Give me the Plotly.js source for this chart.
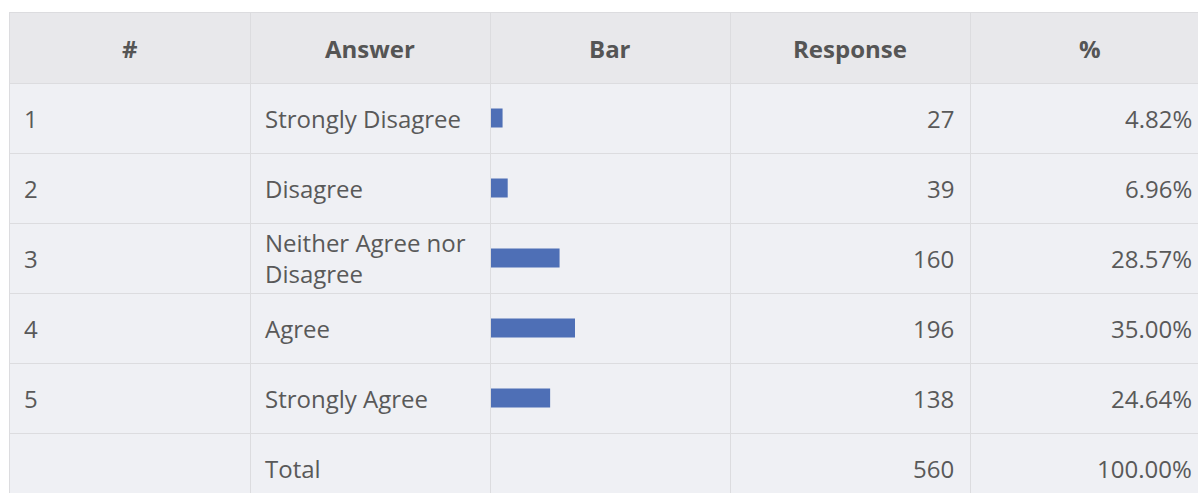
<!DOCTYPE html>
<html><head><meta charset="utf-8">
<script src="https://cdn.plot.ly/plotly-3.0.1.min.js"></script>
<style>html,body{margin:0;padding:0;background:#fff;overflow:hidden}#chart{width:1198px;height:493px}</style>
</head><body><div id="chart"></div>
<script>
// ---- data ----
const headers = ['#', 'Answer', 'Bar', 'Response', '%'];
const rowIds = ['1', '2', '3', '4', '5', ''];
const answers = ['Strongly Disagree', 'Disagree', 'Neither Agree nor<br>Disagree', 'Agree', 'Strongly Agree', 'Total'];
const responses = [27, 39, 160, 196, 138, 560];
const percents = [4.82, 6.96, 28.57, 35.00, 24.64, 100.00];
const percentLabels = ['4.82%', '6.96%', '28.57%', '35.00%', '24.64%', '100.00%'];

// ---- layout geometry ----
const W = 1198, H = 493;
const mL = 10, mT = 13;
const colW = 240, rowH = 70;
const plotW = W - mL, plotH = H - mT;
const xMax = plotW / colW;
const yMax = -0.5 + plotH / rowH;
const font = "'Segoe UI', 'Open Sans', sans-serif";
const fsize = 24;
const txt = '#595959';
const hdrTxt = '#555555';
const lineCol = '#dcdcdf';

const nData = answers.length;
const rowY = answers.map((_, i) => i + 1);
const barRows = rowY.slice(0, 5);
const barVals = percents.slice(0, 5);

const traces = [{
  type: 'bar', orientation: 'h', x: barVals, y: barRows,
  xaxis: 'x2', yaxis: 'y', width: 19 / rowH,
  marker: { color: '#4e6fb6' }, hoverinfo: 'skip'
}];

const annotations = [];
headers.forEach((h, c) => annotations.push({
  xref: 'x', yref: 'y', x: c + 0.5, y: 0, text: '<b>' + h + '</b>',
  showarrow: false, xanchor: 'center', yanchor: 'middle',
  font: { family: font, size: fsize, color: hdrTxt }
}));
for (let i = 0; i < nData; i++) {
  const y = rowY[i];
  const base = { xref: 'x', yref: 'y', y: y, showarrow: false, yanchor: 'middle',
    font: { family: font, size: fsize, color: txt } };
  if (rowIds[i]) annotations.push(Object.assign({}, base, { x: 0 + 12 / colW, xanchor: 'left', text: rowIds[i] }));
  annotations.push(Object.assign({}, base, { x: 1 + 13 / colW, xanchor: 'left', align: 'left', text: answers[i] }));
  annotations.push(Object.assign({}, base, { x: 4 - 14 / colW, xanchor: 'right', text: String(responses[i]) }));
  annotations.push(Object.assign({}, base, { x: 5 - 16 / colW, xanchor: 'right', text: percentLabels[i] }));
}

const layout = {
  width: W, height: H,
  margin: { l: mL, r: 0, t: mT, b: 0, pad: 0 },
  paper_bgcolor: '#ffffff', plot_bgcolor: 'rgba(0,0,0,0)',
  showlegend: false,
  xaxis: {
    range: [0, xMax], side: 'top', tickvals: [0, 1, 2, 3, 4, 5],
    showgrid: true, gridcolor: lineCol, gridwidth: 1, zeroline: false,
    showticklabels: false, ticks: '', showline: true, linecolor: lineCol, linewidth: 1,
    fixedrange: true
  },
  yaxis: {
    range: [yMax, -0.5], tickvals: [-0.5, 0.5, 1.5, 2.5, 3.5, 4.5, 5.5],
    showgrid: true, gridcolor: lineCol, gridwidth: 1, zeroline: false,
    showticklabels: false, ticks: '', showline: true, linecolor: lineCol, linewidth: 1,
    fixedrange: true
  },
  xaxis2: {
    domain: [(2 * colW + 1) / plotW, (3 * colW + 1) / plotW], anchor: 'y',
    range: [0, 100], visible: false, showgrid: false, zeroline: false, fixedrange: true
  },
  shapes: [{
    type: 'rect', xref: 'x', yref: 'y', x0: 0, x1: headers.length, y0: -0.5, y1: 0.5,
    fillcolor: '#e8e8eb', line: { width: 0 }, layer: 'below'
  }, {
    type: 'rect', xref: 'x', yref: 'y', x0: 0, x1: headers.length, y0: 0.5, y1: nData + 1,
    fillcolor: '#eff0f4', line: { width: 0 }, layer: 'below'
  }],
  annotations: annotations
};

Plotly.newPlot('chart', traces, layout, { staticPlot: true, displayModeBar: false });
</script>
</body></html>
